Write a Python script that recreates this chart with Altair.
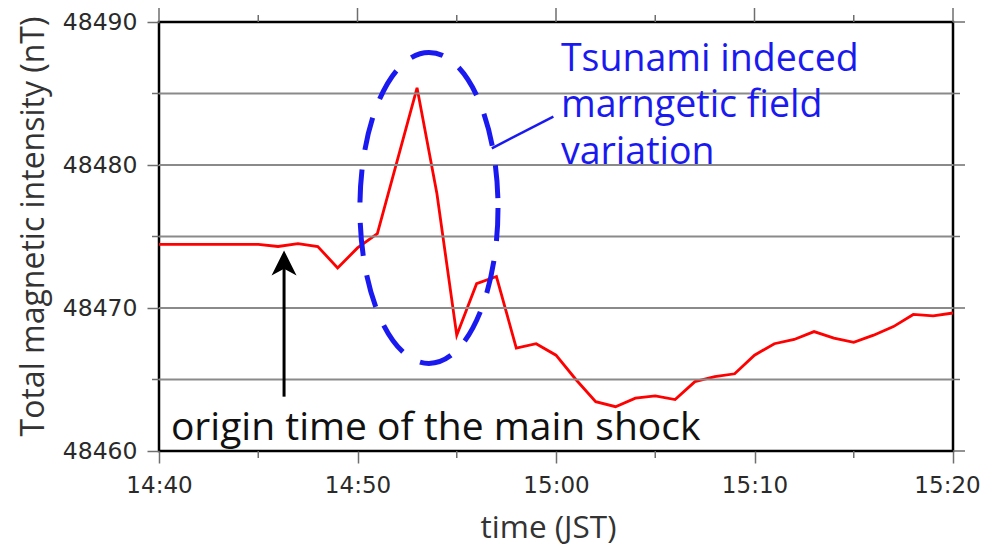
import altair as alt
import pandas as pd

# ---------------- data ----------------
minutes = [0, 1, 2, 3, 4, 5, 6, 7, 8, 9, 10, 11, 13, 14, 15, 16, 17, 18, 19, 20,
           21, 22, 23, 24, 25, 26, 27, 28, 29, 30, 31, 32, 33, 34, 35, 36, 37, 38, 39, 40]
intensity = [48474.45, 48474.45, 48474.45, 48474.45, 48474.45, 48474.45, 48474.3, 48474.5,
             48474.3, 48472.8, 48474.2, 48475.2, 48485.4, 48478.0, 48468.1, 48471.7,
             48472.2, 48467.2, 48467.5, 48466.7, 48465.0, 48463.45, 48463.1, 48463.7,
             48463.85, 48463.6, 48464.85, 48465.2, 48465.4, 48466.7, 48467.5, 48467.8,
             48468.35, 48467.9, 48467.6, 48468.1, 48468.7, 48469.55, 48469.45, 48469.65]

y_major = [48460, 48470, 48480, 48490]
y_minor = [48465, 48475, 48485]
x_major_minutes = [0, 10, 20, 30, 40]
x_minor_minutes = [5, 15, 25, 35]

# annotations (minutes after 14:40, nT)
shock_label = ["origin time of  the main shock"]
shock_label_pos = [(0.6, 48460.8)]
arrow_minute = [6.3]            # 14:46:18 JST
arrow_shaft = [(48463.8, 48472.8)]
arrow_head = [48473.15]
ellipse_center = [(13.6, 48477.0)]
tsunami_label = ["Tsunami indeced\nmarngetic field\nvariation"]
tsunami_label_pos = [(20.25, 48486.6)]
connector = [(16.76, 48481.17, 19.86, 48483.38)]

BASE = pd.Timestamp("2011-03-11 14:40:00")


def t(m):
    return (BASE + pd.Timedelta(seconds=round(m * 60))).strftime("%Y-%m-%dT%H:%M:%S")


def dt(m):
    tot = 40 + m
    return alt.DateTime(year=2011, month=3, date=11, hours=14 + tot // 60, minutes=tot % 60)


line_df = pd.DataFrame({"time": [t(m) for m in minutes], "nT": intensity})
shock_df = pd.DataFrame({"time": [t(p[0]) for p in shock_label_pos],
                         "nT": [p[1] for p in shock_label_pos], "label": shock_label})
shaft_df = pd.DataFrame({"time": [t(m) for m in arrow_minute],
                         "nT": [s[0] for s in arrow_shaft], "nT2": [s[1] for s in arrow_shaft]})
head_df = pd.DataFrame({"time": [t(m) for m in arrow_minute], "nT": arrow_head})
ell_df = pd.DataFrame({"time": [t(c[0]) for c in ellipse_center], "nT": [c[1] for c in ellipse_center]})
tsu_df = pd.DataFrame({"time": [t(p[0]) for p in tsunami_label_pos],
                       "nT": [p[1] for p in tsunami_label_pos], "label": tsunami_label})
con_df = pd.DataFrame({"time": [t(c[0]) for c in connector], "nT": [c[1] for c in connector],
                       "time2": [t(c[2]) for c in connector], "nT2": [c[3] for c in connector]})
ymaj_df = pd.DataFrame({"nT": y_major})
ymin_df = pd.DataFrame({"nT": y_minor})
ygrid_df = pd.DataFrame({"nT": sorted(y_minor + y_major[1:-1])})
xmaj_df = pd.DataFrame({"time": [t(m) for m in x_major_minutes]})
xmin_df = pd.DataFrame({"time": [t(m) for m in x_minor_minutes]})

x_scale = alt.Scale(domain=[dt(0), dt(40)])
y_scale = alt.Scale(domain=[48460, 48490], nice=False, zero=False)

BLUE = "#1a1af0"
TICK = "#6e6e6e"
GRID = "#8a8a8a"
LABEL = "#2a2a2a"

x_axis_bottom = alt.Axis(
    values=[dt(m) for m in x_major_minutes], format="%H:%M",
    labelFont="DejaVu Sans", labelFontSize=23, labelColor=LABEL,
    labelPadding=11, labelFlush=False, labelOverlap=False, labelBound=False,
    labelOffset={"condition": {"test": "datum.index == 1", "value": -6}, "value": 0},
    tickColor=TICK, tickWidth=1.5, tickSize=12, domain=False, grid=False,
    title="time (JST)", titleFont="Open Sans", titleFontSize=31.5, titleFontWeight="normal",
    titleColor="#333333", titleX=389, titleY=86, titleBaseline="alphabetic", titleAlign="center",
)
y_axis_left = alt.Axis(
    values=y_major, format="d",
    labelFont="DejaVu Sans", labelFontSize=23.5, labelColor=LABEL,
    labelPadding=10, labelOverlap=False,
    tickColor=TICK, tickWidth=1.5, tickSize=12, domain=False, grid=False,
    title="Total magnetic intensity (nT)", titleFont="Open Sans", titleFontSize=32,
    titleFontWeight="normal", titleColor="#333333", titleAngle=270,
    titleX=-116, titleY=204, titleAlign="center", titleBaseline="alphabetic",
)


def X(f="time:T"):
    return alt.X(f, scale=x_scale)


def Y(f="nT:Q"):
    return alt.Y(f, scale=y_scale)


# horizontal grid lines (interior) and the outer ticks on every side
grid = alt.Chart(ygrid_df).mark_rule(color=GRID, strokeWidth=1.8).encode(y=Y())
left_minor = alt.Chart(ymin_df).mark_rule(color=TICK, strokeWidth=1.5).encode(
    y=Y(), x=alt.value(-7), x2=alt.value(0))
right_major = alt.Chart(ymaj_df).mark_rule(color=TICK, strokeWidth=1.5).encode(
    y=Y(), x=alt.value("width"), x2=alt.value({"expr": "width + 12"}))
right_minor = alt.Chart(ymin_df).mark_rule(color=TICK, strokeWidth=1.5).encode(
    y=Y(), x=alt.value("width"), x2=alt.value({"expr": "width + 7"}))
top_major = alt.Chart(xmaj_df).mark_rule(color=TICK, strokeWidth=1.5).encode(
    x=X(), y=alt.value(-14), y2=alt.value(0))
top_minor = alt.Chart(xmin_df).mark_rule(color=TICK, strokeWidth=1.5).encode(
    x=X(), y=alt.value(-7), y2=alt.value(0))
bottom_minor = alt.Chart(xmin_df).mark_rule(color=TICK, strokeWidth=1.5).encode(
    x=X(), y=alt.value("height"), y2=alt.value({"expr": "height + 7"}))

line = alt.Chart(line_df).mark_line(color="#ff0000", strokeWidth=2.8).encode(
    x=alt.X("time:T", scale=x_scale, axis=x_axis_bottom),
    y=alt.Y("nT:Q", scale=y_scale, axis=y_axis_left),
)

A, K = 0.444, 0.5523
ELLIPSE = (f"M{A},0 C{A},{K} {A*K:.4f},1 0,1 C{-A*K:.4f},1 {-A},{K} {-A},0 "
           f"C{-A},{-K} {-A*K:.4f},-1 0,-1 C{A*K:.4f},-1 {A},{-K} {A},0 Z")
ellipse = alt.Chart(ell_df).mark_point(
    shape=ELLIPSE, size=96721, filled=False, stroke=BLUE, strokeWidth=5,
    strokeDash=[33, 20], opacity=1,
).encode(x=X(), y=Y())

connector_line = alt.Chart(con_df).mark_rule(color=BLUE, strokeWidth=2.5).encode(
    x=X(), x2="time2:T", y=Y(), y2="nT2:Q",
)

shaft = alt.Chart(shaft_df).mark_rule(color="black", strokeWidth=3).encode(
    x=X(), y=Y(), y2="nT2:Q",
)
ARROW = "M0,-1 L1,1 L0,0.47 L-1,1 Z"
head = alt.Chart(head_df).mark_point(
    shape=ARROW, size=625, filled=True, color="black", opacity=1, strokeWidth=0,
).encode(x=X(), y=Y())

shock_text = alt.Chart(shock_df).mark_text(
    align="left", baseline="alphabetic", font="Open Sans", fontSize=39, color="#111111",
).encode(x=X(), y=Y(), text="label:N")

tsu_text = alt.Chart(tsu_df).mark_text(
    align="left", baseline="alphabetic", font="Open Sans", fontSize=37.5, color=BLUE,
    lineBreak="\n", lineHeight=46.5,
).encode(x=X(), y=Y(), text="label:N")

chart = alt.layer(
    line, grid, left_minor, right_major, right_minor, top_major, top_minor, bottom_minor,
    ellipse, connector_line, shaft, head, shock_text, tsu_text,
).properties(
    width=794, height=429,
    padding={"left": 151, "top": 14, "right": 29, "bottom": 94},
    autosize=alt.AutoSizeParams(type="none"),
    background="white",
).configure_view(stroke="black", strokeWidth=2.5)

chart.save("out.html", embed_options={"renderer": "svg", "actions": False})
